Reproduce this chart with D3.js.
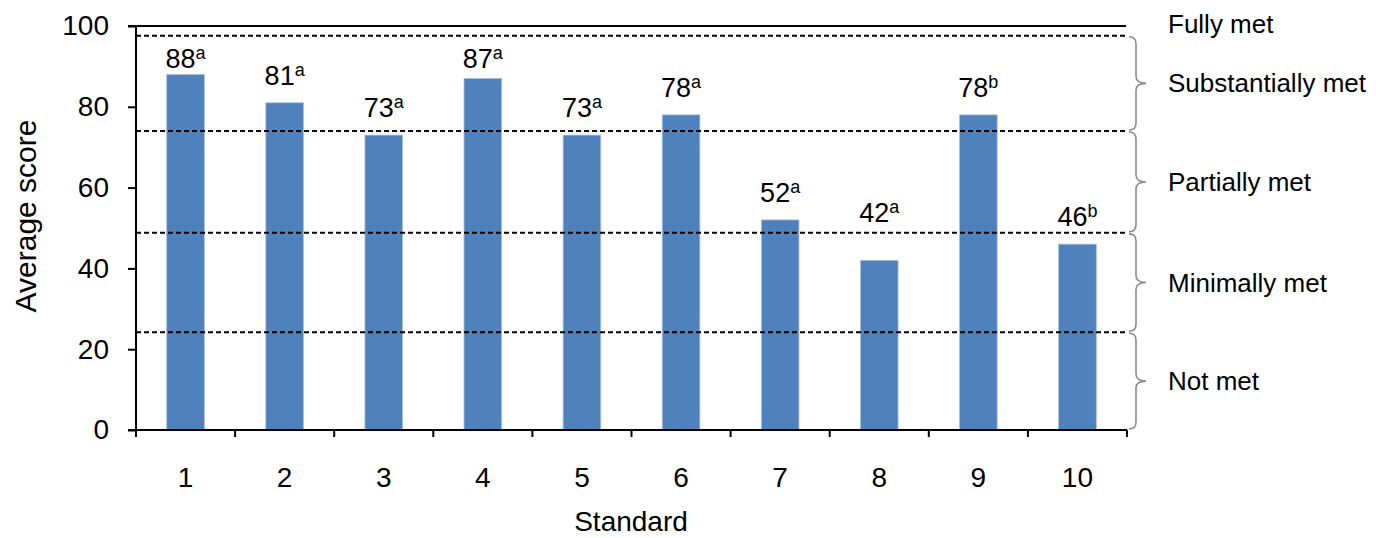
<!DOCTYPE html>
<html>
<head>
<meta charset="utf-8">
<script src="https://cdn.jsdelivr.net/npm/d3@7"></script>
<style>
  body { margin: 0; background: #fff; }
  svg text { font-family: "Liberation Sans", Arial, sans-serif; fill: #000; }
</style>
</head>
<body>
<svg id="chart" width="1376" height="538"></svg>
<script>
// Average score per standard
const standards = ["1", "2", "3", "4", "5", "6", "7", "8", "9", "10"];
const scores = [88, 81, 73, 87, 73, 78, 52, 42, 78, 46];
const notes = ["a", "a", "a", "a", "a", "a", "a", "a", "b", "b"];
const yTicks = [0, 20, 40, 60, 80, 100];

// Rating band thresholds and their names
const thresholds = [24.2, 48.8, 74, 97.6];
const bandNames = ["Not met", "Minimally met", "Partially met", "Substantially met"];
const topBandName = "Fully met";

const svg = d3.select("#chart");
const plotL = 136, plotR = 1127, plotT = 26, plotB = 430;

const x = d3.scaleBand().domain(standards).range([plotL, plotR]).paddingInner(0.62).paddingOuter(0.31);
const y = d3.scaleLinear().domain([0, 100]).range([plotB, plotT]);

// bars
svg.append("g").selectAll("rect").data(scores).join("rect")
  .attr("x", (d, i) => x(standards[i]))
  .attr("y", d => y(d))
  .attr("width", x.bandwidth())
  .attr("height", d => y(0) - y(d))
  .attr("fill", "#4f81bd")
  .attr("stroke", "#a9c1e0")
  .attr("stroke-width", 0.8);

// label baseline: above the bar, nudged clear of any threshold line, kept below the top border
const capH = 20;
function labelBaseline(v) {
  let b = y(v) - 18;
  thresholds.forEach(t => {
    const ly = y(t);
    if (ly > b - capH && ly < b + 2) b = ly - 11;
  });
  return Math.max(b, plotT + 42);
}

// value labels with superscript notes
const lbl = svg.append("g").selectAll("text").data(scores).join("text")
  .attr("x", (d, i) => x(standards[i]) + x.bandwidth() / 2)
  .attr("y", d => labelBaseline(d))
  .attr("text-anchor", "middle")
  .attr("font-size", 27);
lbl.append("tspan").text(d => d);
lbl.append("tspan").attr("font-size", 18).attr("dy", -9).text((d, i) => notes[i]);

// threshold lines
svg.append("g").selectAll("line").data(thresholds).join("line")
  .attr("x1", plotL).attr("x2", plotR)
  .attr("y1", d => y(d)).attr("y2", d => y(d))
  .attr("stroke", "#000").attr("stroke-width", 2)
  .attr("stroke-dasharray", "5,3");

// top border line
svg.append("line")
  .attr("x1", plotL - 8).attr("x2", plotR - 1)
  .attr("y1", y(100)).attr("y2", y(100))
  .attr("stroke", "#000").attr("stroke-width", 2);

// y axis
const yAxis = svg.append("g").attr("transform", `translate(${plotL},0)`)
  .call(d3.axisLeft(y).tickValues(yTicks).tickSize(8).tickPadding(19));
yAxis.selectAll("path, line").attr("stroke", "#000").attr("stroke-width", 2);
yAxis.select(".domain").attr("d", `M-8,${y(100)}H0V${y(0)}H-8`);
yAxis.selectAll("text").attr("font-size", 28).attr("font-family", "Liberation Sans, Arial, sans-serif");

// x axis: ticks on band boundaries, labels centred in bands
const xg = svg.append("g");
xg.append("line").attr("x1", plotL).attr("x2", plotR)
  .attr("y1", y(0)).attr("y2", y(0)).attr("stroke", "#000").attr("stroke-width", 2);
const bounds = d3.range(standards.length + 1).map(i => plotL + i * (plotR - plotL) / standards.length);
xg.selectAll("line.tick").data(bounds).join("line").attr("class", "tick")
  .attr("x1", d => d).attr("x2", d => d)
  .attr("y1", y(0)).attr("y2", y(0) + 7)
  .attr("stroke", "#000").attr("stroke-width", 2);
xg.selectAll("text").data(standards).join("text")
  .attr("x", d => x(d) + x.bandwidth() / 2)
  .attr("y", 487)
  .attr("text-anchor", "middle")
  .attr("font-size", 28)
  .text(d => d);

// axis titles
svg.append("text").attr("x", 631).attr("y", 531).attr("text-anchor", "middle")
  .attr("font-size", 28).text("Standard");
svg.append("text").attr("transform", `translate(36,216) rotate(-90)`)
  .attr("text-anchor", "middle").attr("font-size", 30).text("Average score");

// braces beside each band
const edges = [0].concat(thresholds);
const bx = 1129;
function brace(y1, y2) {
  const m = (y1 + y2) / 2, vx = bx + 7, tip = bx + 17, r = 7;
  return `M${bx},${y1} Q${vx},${y1} ${vx},${y1 + r} L${vx},${m - r} Q${vx},${m} ${tip},${m}` +
         ` Q${vx},${m} ${vx},${m + r} L${vx},${y2 - r} Q${vx},${y2} ${bx},${y2}`;
}
const bands = bandNames.map((name, i) => ({ name, y1: y(edges[i + 1]), y2: y(edges[i]) }));
svg.append("g").selectAll("path").data(bands).join("path")
  .attr("d", d => brace(d.y1 + 1, d.y2 - 1))
  .attr("fill", "none").attr("stroke", "#8c8c8c").attr("stroke-width", 1.6);
svg.append("g").selectAll("text").data(bands).join("text")
  .attr("x", 1168).attr("y", d => (d.y1 + d.y2) / 2 + 9)
  .attr("font-size", 26).text(d => d.name);
svg.append("text").attr("x", 1168).attr("y", 33).attr("font-size", 26).text(topBandName);
</script>
</body>
</html>
